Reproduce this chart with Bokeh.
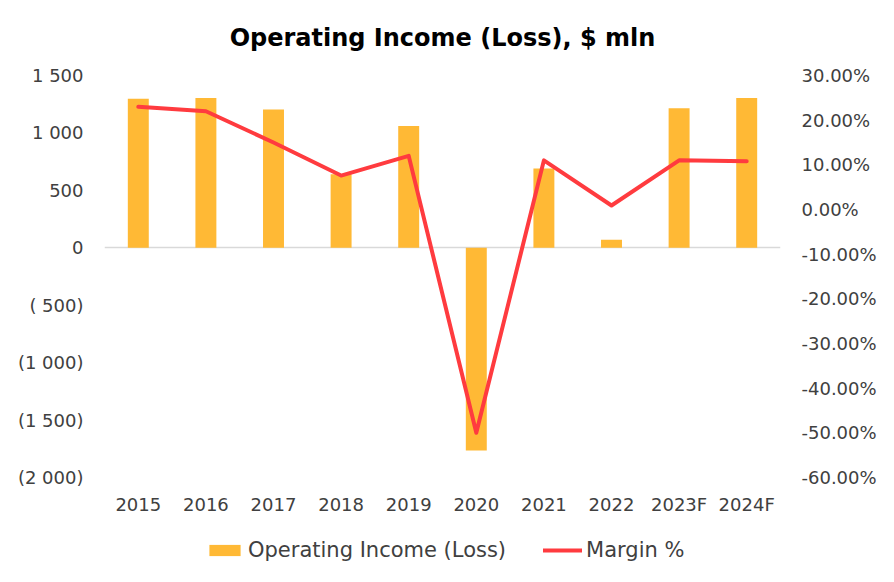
from bokeh.plotting import figure
from bokeh.layouts import column
from bokeh.models import (FactorRange, Range1d, LinearAxis, FixedTicker, Legend, LegendItem)
from bokeh.embed import file_html
from bokeh.resources import INLINE

years = ["2015", "2016", "2017", "2018", "2019", "2020", "2021", "2022", "2023F", "2024F"]
income = [1298, 1305, 1205, 640, 1060, -1765, 690, 70, 1215, 1305]
margin = [0.230, 0.220, 0.150, 0.076, 0.120, -0.500, 0.110, 0.009, 0.110, 0.108]

left_ticks = [-2000, -1500, -1000, -500, 0, 500, 1000, 1500]
left_labels = ["(2 000)", "(1 500)", "(1 000)", "( 500)", "0", "500", "1 000", "1 500"]
right_ticks = [-0.6, -0.5, -0.4, -0.3, -0.2, -0.1, 0.0, 0.1, 0.2, 0.3]
right_labels = ["-60.00%", "-50.00%", "-40.00%", "-30.00%", "-20.00%", "-10.00%",
                "0.00%", "10.00%", "20.00%", "30.00%"]
legend_labels = ["Operating Income (Loss)", "Margin %"]

FONT = "DejaVu Sans"
TXT = "#404040"
BAR = "#FFB935"
RED = "#FF3B3F"

p = figure(width=892, height=525, x_range=FactorRange(factors=years),
           y_range=Range1d(-2000, 1500), output_backend="svg", toolbar_location=None,
           title="Operating Income (Loss), $ mln",
           min_border_left=104, min_border_right=112, min_border_top=75, min_border_bottom=48)
p.extra_y_ranges = {"margin": Range1d(-0.6, 0.3)}

p.title.align = "center"
p.title.vertical_align = "top"
p.title.text_font = FONT
p.title.text_font_size = "24px"
p.title.text_font_style = "bold"
p.title.text_color = "#000000"
p.title.standoff = 43

bars = p.vbar(x=years, top=income, width=0.31, fill_color=BAR, line_color=None)
line = p.line(x=years, y=margin, y_range_name="margin", line_color=RED, line_width=4,
              line_cap="round", line_join="round")

p.outline_line_color = None
p.xgrid.visible = False
p.ygrid.ticker = FixedTicker(ticks=[0])
p.ygrid.grid_line_color = "#D9D9D9"
p.ygrid.grid_line_width = 1.5

ax = p.yaxis[0]
ax.ticker = FixedTicker(ticks=left_ticks)
ax.major_label_overrides = dict(zip(left_ticks, left_labels))

rax = LinearAxis(y_range_name="margin", ticker=FixedTicker(ticks=right_ticks))
rax.major_label_overrides = dict(zip(right_ticks, right_labels))
p.add_layout(rax, "right")

for a in [p.xaxis[0], ax, rax]:
    a.axis_line_color = None
    a.major_tick_line_color = None
    a.minor_tick_line_color = None
    a.major_tick_out = 0
    a.major_label_text_font = FONT
    a.major_label_text_font_size = "18px"
    a.major_label_text_color = TXT
ax.major_label_standoff = 21
rax.major_label_standoff = 21
p.xaxis[0].major_label_standoff = 16

# legend strip below the chart (its frame is aligned with the chart's frame)
q = figure(width=892, height=55, x_range=Range1d(0, 1), y_range=Range1d(0, 1),
           output_backend="svg", toolbar_location=None,
           x_axis_location=None, y_axis_location=None,
           min_border_left=0, min_border_right=0, min_border_top=0, min_border_bottom=0)
q.outline_line_color = None
q.xgrid.visible = False
q.ygrid.visible = False
# zero-size carriers, used only to draw the legend swatches
sw_bar = q.vbar(x=[0], top=[0], width=0, fill_color=BAR, line_color=None)
sw_line = q.line(x=[0], y=[0], line_color=RED, line_width=4, line_cap="round")

legend = Legend(items=[LegendItem(label=legend_labels[0], renderers=[sw_bar]),
                       LegendItem(label=legend_labels[1], renderers=[sw_line])],
                orientation="horizontal", location=(101, 18),
                label_text_font=FONT, label_text_font_size="21px", label_text_color=TXT,
                glyph_width=39, glyph_height=14, label_height=20, label_standoff=4, spacing=37,
                padding=0, margin=0, border_line_color=None, background_fill_alpha=0)
q.add_layout(legend, "center")

open("out.html", "w").write(file_html(column(p, q, spacing=0), INLINE))
